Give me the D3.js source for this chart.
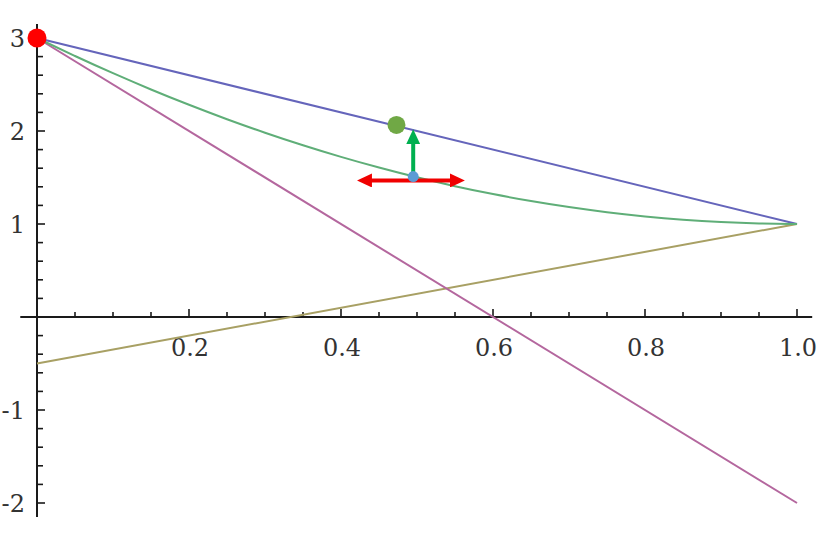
<!DOCTYPE html>
<html><head><meta charset="utf-8">
<script src="https://cdn.jsdelivr.net/npm/d3@7"></script>
<style>body{margin:0;background:#fff}svg{display:block}</style>
</head><body>
<script>
// Data
const xDomain = [-0.022, 1.02];
const yDomain = [-2.15, 3.15];
const xTickLabels = [0.2, 0.4, 0.6, 0.8, 1.0];
const yTickLabels = [-2, -1, 1, 2, 3];
const blueLine = [[0, 3], [1, 1]];
const purpleLine = [[0, 3], [1, -2]];
const oliveLine = [[0, -0.5], [1, 1]];
// green curve samples
const greenCurve = [[0,3],[0.05,2.805],[0.1,2.62],[0.15,2.445],[0.2,2.28],[0.25,2.125],[0.3,1.98],[0.35,1.845],[0.4,1.72],[0.45,1.605],[0.5,1.5],[0.55,1.405],[0.6,1.32],[0.65,1.245],[0.7,1.18],[0.75,1.125],[0.8,1.08],[0.85,1.045],[0.9,1.02],[0.95,1.005],[1,1]];
const redPoint = [0, 3];
const greenPoint = [0.473, 2.065];
const bluePoint = [0.495, 1.51];
const greenArrowEnd = [0.495, 2.02];
const redArrowEnds = [[0.421, 1.468], [0.563, 1.468]];

const W = 824, H = 545;
const x = d3.scaleLinear().domain([0, 1]).range([37, 797]);
const y = d3.scaleLinear().domain([0, 1]).range([317, 224]);

const svg = d3.select("body").append("svg").attr("width", W).attr("height", H);
const defs = svg.append("defs");
const HEAD = 15;
function marker(id, color) {
  defs.append("marker").attr("id", id).attr("viewBox", "0 0 15 14")
    .attr("refX", 2).attr("refY", 7).attr("markerWidth", 15).attr("markerHeight", 14)
    .attr("markerUnits", "userSpaceOnUse").attr("orient", "auto-start-reverse")
    .append("path").attr("d", "M0,0 L15,7 L0,14 z").attr("fill", color);
}
marker("hg", "#00b050");
marker("hr", "#f00000");

const line = d3.line().x(d => x(d[0])).y(d => y(d[1]));

// Axes
const axisColor = "#1a1a1a";
svg.append("line").attr("x1", x(xDomain[0])).attr("x2", x(xDomain[1])).attr("y1", y(0)).attr("y2", y(0))
  .attr("stroke", axisColor).attr("stroke-width", 2);
svg.append("line").attr("x1", x(0)).attr("x2", x(0)).attr("y1", y(yDomain[1])).attr("y2", y(yDomain[0]))
  .attr("stroke", axisColor).attr("stroke-width", 2);

// x ticks
const xMinor = d3.range(1, 21).map(i => i * 0.05);
svg.append("g").selectAll("line").data(xMinor).join("line")
  .attr("x1", d => x(d)).attr("x2", d => x(d))
  .attr("y1", y(0)).attr("y2", (d, i) => y(0) - ((i + 1) % 4 === 0 ? 8 : 5))
  .attr("stroke", axisColor).attr("stroke-width", 1.6);
// y ticks
const yMinor = d3.range(-10, 16).filter(i => i !== 0).map(i => i * 0.2);
svg.append("g").selectAll("line").data(yMinor).join("line")
  .attr("x1", x(0)).attr("x2", d => x(0) + (Math.abs(Math.round(d * 5)) % 5 === 0 ? 8 : 6))
  .attr("y1", d => y(d)).attr("y2", d => y(d))
  .attr("stroke", axisColor).attr("stroke-width", 1.6);

const font = "'DejaVu Serif', serif";
svg.append("g").selectAll("text").data(xTickLabels).join("text")
  .attr("x", d => x(d) + 1).attr("y", y(0) + 39)
  .attr("text-anchor", "middle").attr("font-family", font).attr("font-size", 24).attr("fill", "#333")
  .text(d => d3.format(".1f")(d));
svg.append("g").selectAll("text").data(yTickLabels).join("text")
  .attr("x", x(0) - 12).attr("y", d => y(d) + 9)
  .attr("text-anchor", "end").attr("font-family", font).attr("font-size", 24).attr("fill", "#333")
  .text(d => d < 0 ? "-" + Math.abs(d) : d);

// Lines
svg.append("path").datum(oliveLine).attr("d", line).attr("fill", "none").attr("stroke", "#a8a064").attr("stroke-width", 2);
svg.append("path").datum(purpleLine).attr("d", line).attr("fill", "none").attr("stroke", "#b4679e").attr("stroke-width", 2);
svg.append("path").datum(blueLine).attr("d", line).attr("fill", "none").attr("stroke", "#6565bb").attr("stroke-width", 2);
svg.append("path").datum(greenCurve).attr("d", d3.line().x(d => x(d[0])).y(d => y(d[1])).curve(d3.curveBasis))
  .attr("fill", "none").attr("stroke", "#5fae78").attr("stroke-width", 2);

// Arrows
const inset = HEAD - 2;
svg.append("line").attr("x1", x(redArrowEnds[0][0]) + inset).attr("x2", x(redArrowEnds[1][0]) - inset)
  .attr("y1", y(redArrowEnds[0][1])).attr("y2", y(redArrowEnds[1][1]))
  .attr("stroke", "#f00000").attr("stroke-width", 4)
  .attr("marker-start", "url(#hr)").attr("marker-end", "url(#hr)");
svg.append("line").attr("x1", x(bluePoint[0])).attr("x2", x(greenArrowEnd[0]))
  .attr("y1", y(bluePoint[1])).attr("y2", y(greenArrowEnd[1]) + inset)
  .attr("stroke", "#00b050").attr("stroke-width", 4)
  .attr("marker-end", "url(#hg)");

// Points
svg.append("circle").attr("cx", x(bluePoint[0])).attr("cy", y(bluePoint[1])).attr("r", 5.5).attr("fill", "#5b9bd5");
svg.append("circle").attr("cx", x(greenPoint[0])).attr("cy", y(greenPoint[1])).attr("r", 9).attr("fill", "#70a845");
svg.append("circle").attr("cx", x(redPoint[0])).attr("cy", y(redPoint[1])).attr("r", 9.5).attr("fill", "#ff0000");
</script>
</body></html>
